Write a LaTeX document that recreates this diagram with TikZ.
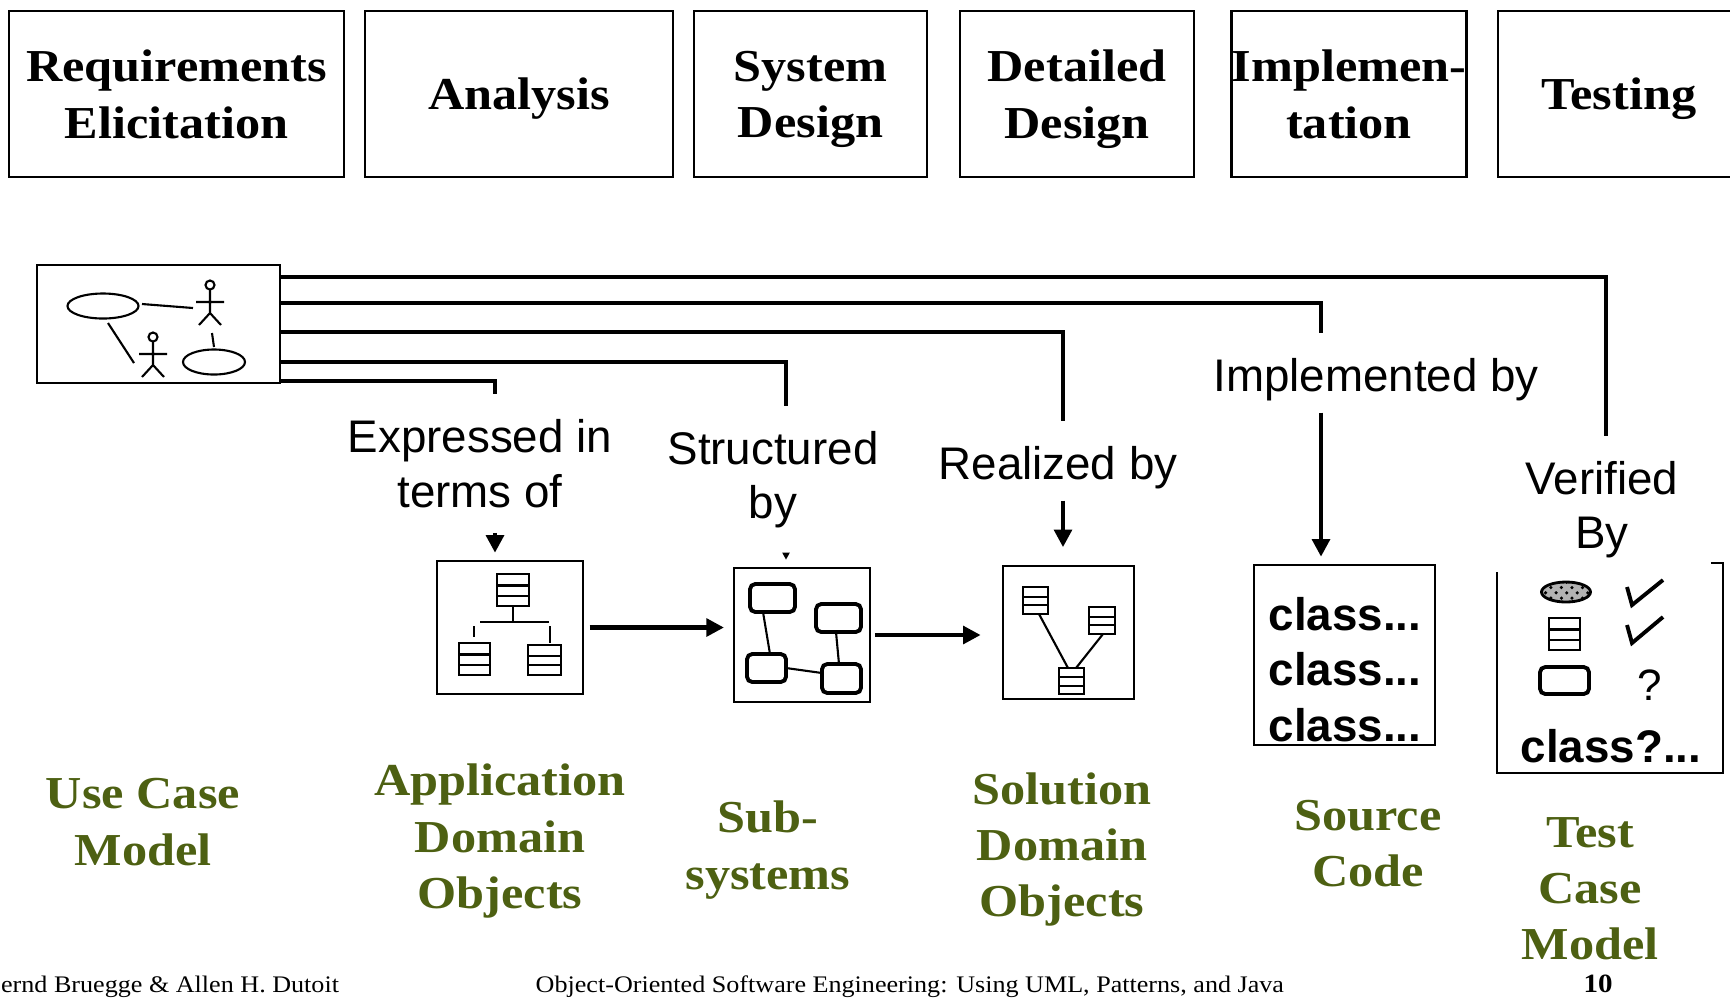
\documentclass[tikz,border=0pt]{standalone}
\usepackage{fontspec}
\setmainfont{Liberation Serif}[FakeStretch=1.1]
\setsansfont{Liberation Sans}
\usetikzlibrary{arrows.meta,patterns}

\definecolor{olivetxt}{RGB}{77,96,18}

% class icon: corners (x1,y1) and (x2,y2)
\newcommand{\umlclass}[4]{%
  \draw[icon] (#1,#2) rectangle (#3,#4);
  \draw[icon] (#1,{#2+0.36*(#4-#2)}) -- (#3,{#2+0.36*(#4-#2)});
  \draw[icon] (#1,{#2+0.68*(#4-#2)}) -- (#3,{#2+0.68*(#4-#2)});}
% actor: head at (x,y)
\newcommand{\stickman}[2]{%
  \draw[icon] (#1,#2) circle (0.045cm);
  \draw[icon] (#1,#2+4.5) -- (#1,#2+28) (#1-14,#2+17) -- (#1+14,#2+17)
    (#1-11,#2+40) -- (#1,#2+28) -- (#1+11,#2+40);}

\begin{document}
\begin{tikzpicture}[x=0.01cm, y=-0.01cm,
  phase/.style={draw, line width=0.7pt, align=center, inner xsep=0pt, text depth=0pt,
    minimum height=1.66cm, font=\fontsize{13}{16}\selectfont\bfseries},
  model/.style={align=center, text=olivetxt, font=\fontsize{13}{16}\selectfont\bfseries},
  rel/.style={align=center, inner sep=7pt, font=\sffamily\fontsize{13}{15.5}\selectfont},
  srctext/.style={inner sep=0pt, font=\sffamily\bfseries\fontsize{13}{15}\selectfont},
  diag/.style={draw, line width=0.7pt},
  icon/.style={line width=0.6pt},
  sysbox/.style={line width=1.1pt, rounded corners=1.5pt},
  check/.style={line width=1.1pt},
  link/.style={line width=1.2pt},
  flow/.style={line width=1.2pt, -{Triangle[width=5pt,length=5pt]}, shorten >=2pt}]

\useasboundingbox (0,0) rectangle (1730,999);
\clip (0,0) rectangle (1730,999);

% activities
\node[phase, minimum width=3.35cm] (req) at (176.5,94) {Requirements\\Elicitation};
\node[phase, minimum width=3.08cm] (ana) at (519,94) {Analysis};
\node[phase, minimum width=2.33cm] (sys) at (810.5,94) {System\\Design};
\node[phase, minimum width=2.34cm] (det) at (1077,94) {Detailed\\Design};
\node[phase, minimum width=2.34cm] (imp) at (1349,94) {Implemen-\\tation};
\node[phase, minimum width=2.42cm] (tst) at (1619,94) {Testing};

% use case model
\node[diag, minimum width=2.43cm, minimum height=1.18cm] (uc) at (158.5,324) {};
\draw[icon] (103,306) ellipse [x radius=0.355cm, y radius=0.125cm];
\draw[icon] (214,362) ellipse [x radius=0.31cm, y radius=0.125cm];
\draw[icon] (142,304) -- (193,308) (212,333) -- (214,347) (108,323) -- (134,363);
\stickman{210}{285}
\stickman{153}{337}

% models
\node[diag, minimum width=1.46cm, minimum height=1.33cm] (app) at (510,627.5) {};
\node[diag, minimum width=1.36cm, minimum height=1.34cm] (sub) at (802,635) {};
\node[diag, minimum width=1.31cm, minimum height=1.33cm] (sol) at (1068.5,632.5) {};
\node[diag, minimum width=1.81cm, minimum height=1.80cm] (src) at (1344.5,655) {};
\node[minimum width=2.24cm, minimum height=2.08cm] (test) at (1610,668) {};
\draw[diag] ([xshift=-0.12cm]test.north east) -- (test.north east) -- (test.south east)
  -- (test.south west) -- ([yshift=-0.09cm]test.north west);

% application domain objects
\umlclass{497}{574}{529}{606}
\draw[icon] (513,606) -- (513,622) (480,622) -- (549,622) (474,626) -- (474,637) (550,626) -- (550,643);
\umlclass{459}{643}{490}{675}
\umlclass{528}{645}{561}{675}

% subsystems
\draw[sysbox] (750,584) rectangle (795,612) (816,604) rectangle (861,632)
  (747,654) rectangle (786,682) (822,664) rectangle (861,693);
\draw[icon] (763,612) -- (770,654) (836,632) -- (839,664) (786,668) -- (822,673);

% solution domain objects
\umlclass{1023}{587}{1048}{614}
\umlclass{1089}{607}{1115}{634}
\umlclass{1059}{668}{1084}{694}
\draw[icon] (1039,614) -- (1068,668) (1103,634) -- (1076,668);

% source code
\foreach \y [count=\i] in {630,685,741}
  \node[srctext, anchor=base west] (cls\i) at (1268,\y) {class...};

% test cases
\draw[line width=0.8pt, fill=gray!60, postaction={pattern=crosshatch dots}] (1566,592) ellipse [x radius=0.245cm, y radius=0.1cm];
\draw[check] (1627,587) -- (1632,605) -- (1663,580);
\draw[check] (1627,625) -- (1632,643) -- (1663,617);
\umlclass{1549}{618}{1580}{650}
\draw[sysbox] (1540,667) rectangle (1589,694);
\node[anchor=base, inner sep=0pt, font=\sffamily\fontsize{12.5}{14}\selectfont] (qm) at (1650,700) {?};
\node[srctext, anchor=base west] (clsq) at (1520,762) {class?...};

% relations
\node[rel] (expr) at (480,463.5) {Expressed in\\terms of};
\node[rel] (struc) at (773,479.5) {Structured\\by};
\node[rel] (real) at (1058,468) {Realized by};
\node[rel] (impl) at (1376,380) {Implemented by};
\node[rel] (verif) at (1602,509.5) {Verified\\By};

\coordinate (kE) at (495,381);
\coordinate (kS) at (786,362);
\coordinate (kR) at (1063,332);
\coordinate (kI) at (1321,303);
\coordinate (kV) at (1606,277);

\draw[link] (uc.east |- kE) -- (kE) -- (kE |- expr.north);
\draw[link] (uc.east |- kS) -- (kS) -- (kS |- struc.north);
\draw[link] (uc.east |- kR) -- (kR) -- (kR |- real.north);
\draw[link] (uc.east |- kI) -- (kI) -- (kI |- impl.north);
\draw[link] (uc.east |- kV) -- (kV) -- (kV |- verif.north);

\draw[flow] (kE |- expr.south) -- (kE |- app.north);
\draw[flow, -{Triangle[width=2pt,length=2pt]}] (kS |- struc.south) -- (kS |- sub.north);
\draw[flow, shorten <=-4pt, shorten >=5pt] (kR |- real.south) -- (kR |- sol.north);
\draw[flow, shorten <=-4pt] (kI |- impl.south) -- (kI |- src.north);

\draw[flow, shorten <=1.5pt, shorten >=2.5pt] (app.east) -- (app.east -| sub.west);
\draw[flow, shorten <=1pt, shorten >=6pt] (sub.east) -- (sub.east -| sol.west);

% model names
\node[model] (ucm) at (143,822) {Use Case\\Model};
\node[model] (adm) at (500,841) {Application\\Domain\\Objects};
\node[model] (sbs) at (768,850) {Sub-\\systems};
\node[model] (sdm) at (1062,849.5) {Solution\\Domain\\Objects};
\node[model] (scm) at (1368,843.5) {Source\\Code};
\node[model] (tcm) at (1590,888.5) {Test\\Case\\Model};

% footer
\node[anchor=base west, inner sep=0pt, font=\fontsize{6.75}{8}\selectfont] (auth) at (-17,992) {Bernd Bruegge \& Allen H. Dutoit};
\node[anchor=base west, inner sep=0pt, font=\fontsize{6.75}{8}\selectfont] (book) at (535,992) {Object-Oriented Software Engineering: Using UML, Patterns, and Java};
\node[anchor=base, inner sep=0pt, font=\fontsize{7.5}{9}\selectfont\bfseries] (page) at (1598,992) {10};
\end{tikzpicture}
\end{document}
